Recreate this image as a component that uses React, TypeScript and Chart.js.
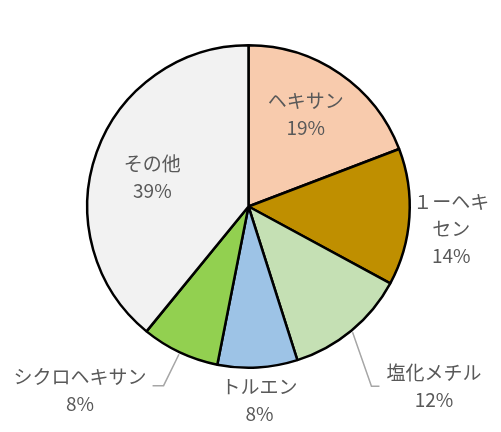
import { useEffect, useRef } from 'react';
import { Chart, registerables, ArcElement } from 'chart.js';

Chart.register(...registerables);

// slice names, shares (clockwise from 12 o'clock)
const labels = ['ヘキサン', '１ーヘキセン', '塩化メチル', 'トルエン', 'シクロヘキサン', 'その他'];
const shares = [19.2, 13.7, 12.2, 8.0, 7.8, 39.1];
const colors = ['#F8CBAD', '#BF8F00', '#C5E0B4', '#9DC3E6', '#92D050', '#F2F2F2'];

// how each label's text is broken into lines
const labelLines = [['ヘキサン'], ['１ーヘキ', 'セン'], ['塩化メチル'], ['トルエン'], ['シクロヘキサン'], ['その他']];

// label placement: r = fraction of radius along the slice mid-angle, then nudge
const placement = [
    { r: 0.68, dx: -5, dy: -2, leader: '' },
    { r: 1.26, dx: 0, dy: 9, leader: '' },
    { r: 1.6, dx: 21, dy: -19, leader: 'left' },
    { r: 1.2, dx: 0, dy: 1, leader: '' },
    { r: 1.55, dx: -62, dy: -42, leader: 'right' },
    { r: 0.62, dx: -2, dy: 4, leader: '' },
];

const FONT = '19px "Noto Sans CJK JP", "Noto Sans", sans-serif';
const LINE_H = 27;

const sliceLabels = {
    id: 'sliceLabels',
    afterDraw(chart: Chart) {
        const ctx = chart.ctx;
        const meta = chart.getDatasetMeta(0);
        const values = chart.data.datasets[0].data as number[];
        const total = values.reduce((a, b) => a + b, 0);
        ctx.save();
        ctx.font = FONT;
        ctx.textAlign = 'center';
        ctx.textBaseline = 'middle';
        meta.data.forEach((el, i) => {
            const arc = el as ArcElement;
            const { x, y, startAngle, endAngle, outerRadius } = arc.getProps(
                ['x', 'y', 'startAngle', 'endAngle', 'outerRadius'], true
            );
            const mid = (startAngle + endAngle) / 2;
            const p = placement[i];
            const cx = x + Math.cos(mid) * outerRadius * p.r + p.dx;
            const cy = y + Math.sin(mid) * outerRadius * p.r + p.dy;
            const lines = [...labelLines[i], Math.round((values[i] / total) * 100) + '%'];
            const top = cy - ((lines.length - 1) * LINE_H) / 2;
            ctx.fillStyle = '#595959';
            lines.forEach((t, k) => ctx.fillText(t, cx, top + k * LINE_H));

            if (p.leader) {
                const w = ctx.measureText(lines[0]).width;
                const sx = x + Math.cos(mid) * (outerRadius + 2);
                const sy = y + Math.sin(mid) * (outerRadius + 2);
                let ex, ey;
                if (p.leader === 'left') {
                    ex = cx - w / 2 - 7;
                    ey = cy;
                } else {
                    ex = cx + w / 2 + 6;
                    ey = cy - 5;
                }
                const kx = p.leader === 'left' ? ex - 8 : ex + 11;
                ctx.strokeStyle = '#A6A6A6';
                ctx.lineWidth = 1.5;
                ctx.beginPath();
                ctx.moveTo(sx, sy);
                ctx.lineTo(kx, ey);
                ctx.lineTo(ex, ey);
                ctx.stroke();
            }
        });
        ctx.restore();
    },
};

export default function App() {
    const canvasRef = useRef<HTMLCanvasElement>(null);

    useEffect(() => {
        document.body.style.margin = '0';
        if (!canvasRef.current) return;
        const chart = new Chart(canvasRef.current, {
            type: 'pie',
            data: {
                labels,
                datasets: [
                    {
                        data: shares,
                        backgroundColor: colors,
                        borderColor: '#000000',
                        borderWidth: 2.5,
                    },
                ],
            },
            options: {
                responsive: false,
                animation: false,
                layout: {
                    padding: { left: 86, right: 90, top: 44, bottom: 63 },
                },
                plugins: {
                    legend: { display: false },
                    tooltip: { enabled: false },
                },
            },
            plugins: [sliceLabels],
        });
        return () => chart.destroy();
    }, []);

    return (
        <div style={{ width: 501, height: 432, background: '#fff' }}>
            <canvas ref={canvasRef} width={501} height={432} />
        </div>
    );
}
